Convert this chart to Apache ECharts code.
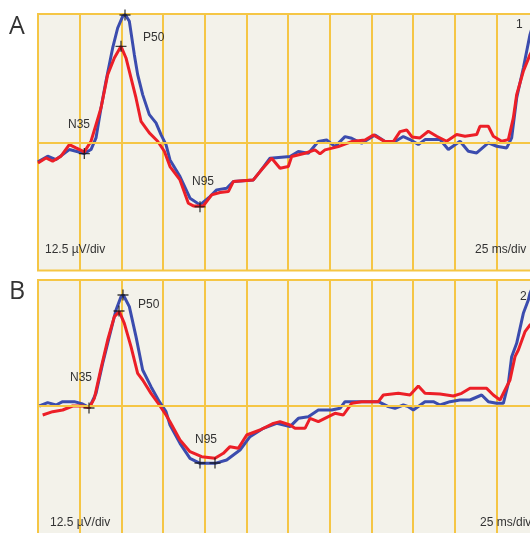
<!DOCTYPE html>
<html>
<head>
<meta charset="utf-8">
<script src="https://cdn.jsdelivr.net/npm/echarts@6/dist/echarts.min.js"></script>
<style>html,body{margin:0;padding:0;background:#fff;}#c{width:530px;height:533px;}</style>
</head>
<body>
<div id="c"></div>
<script>
// time in ms (25 ms/div), amplitude in µV (12.5 µV/div)
const aBlue = [[0,-5.9],[5.8,-4.2],[10.8,-5.2],[14.8,-3.7],[18.8,-2.2],[22.8,-2.7],[27.8,-3.4],[31.8,-2.2],[34.8,1.3],[37.8,10.3],[40.8,18.4],[44.8,28.3],[47.8,34.3],[50.8,37.8],[52.4,38.3],[54.8,36.3],[57.8,26.3],[59.8,20.3],[62.8,14.3],[66.8,8.3],[70.8,5.8],[73.8,2.3],[76.8,-0.7],[79.2,-5.3],[85.2,-10.3],[91.2,-16.8],[97.2,-18.8],[103.2,-16.3],[107.2,-14.3],[113.2,-13.8],[117.2,-11.8],[129.2,-11.3],[133.2,-8.8],[139.2,-4.8],[151.2,-4.3],[156.2,-2.8],[162.2,-3.3],[168.2,0.2],[173.2,0.7],[178.2,-1.3],[184.2,1.7],[188.2,1.2],[194.2,-0.3],[202.2,2.2],[208.2,0.2],[214.2,0.2],[219.2,1.7],[223.2,0.8],[228.2,-0.7],[232.2,0.8],[241.2,0.8],[246.2,-2.2],[253.2,0.3],[258.2,-2.7],[263.2,-3.2],[270.2,-0.2],[275.2,-1.2],[281.2,-1.7],[284.2,1.3],[287.2,13.3],[291.2,22.3],[295.2,32.3],[298.2,37.3]];
const aRed = [[0,-6.2],[4.8,-4.7],[8.8,-5.7],[13.8,-4.2],[18.8,-0.7],[22.8,-1.7],[27.8,-2.9],[31.8,0.3],[34.8,5.3],[37.8,10.3],[41.8,20.3],[45.8,25.3],[49.8,28.8],[52.8,25.3],[55.8,19.3],[58.8,13.3],[61.8,6.3],[66.8,2.8],[71.8,0.3],[75.8,-2.7],[79.2,-7.3],[85.2,-11.3],[90.2,-18.3],[93.2,-19.1],[99.2,-19.1],[104.2,-15.8],[109.2,-15.1],[114.2,-14.8],[117.2,-11.8],[129.2,-11.3],[133.2,-8.8],[140.2,-4.8],[145.2,-7.8],[150.2,-7.3],[152.2,-4.3],[160.2,-3.3],[166.2,-2.3],[169.2,-3.5],[172.2,-2.3],[180.2,-1.3],[188.2,0.2],[196.2,0.7],[201.2,2.2],[208.2,0.2],[213.2,0.2],[217.2,3.2],[221.2,3.7],[224.4,1.6],[229.2,1.3],[234.2,3.3],[239.2,1.8],[245.2,0.3],[251.2,2.3],[256.2,1.8],[263.2,2.3],[265.2,4.8],[270.2,4.8],[273.2,1.8],[278.2,0.3],[282.2,0.8],[285.2,7.3],[287.2,14.3],[291.2,21.3],[295.2,26.3],[298.2,29.2]];
const bBlue = [[0.8,0],[5.8,1.0],[10.8,0.3],[14.8,1.3],[21.8,1.3],[26.8,0.6],[30.8,-0.5],[34.8,3.8],[38.8,12.8],[42.8,20.8],[46.8,28.8],[49.8,32.8],[51.2,33.3],[54.8,29.8],[58.8,20.8],[62.8,10.8],[67.8,5.8],[72.8,1.3],[76.8,-1.7],[79.2,-5.7],[85.2,-11.2],[91.2,-15.7],[97.2,-17.2],[106.2,-17.2],[113.2,-16.2],[121.2,-13.2],[127.2,-9.2],[135.2,-6.7],[143.2,-5.2],[151.2,-6.2],[156.2,-3.7],[162.2,-3.2],[168.2,-1.2],[176.2,-1.2],[181.2,-0.7],[184.2,1.3],[196.2,1.3],[204.2,1.3],[210.2,-0.2],[214.2,-0.7],[219.2,0.3],[222.2,-0.2],[225.2,-1.2],[232.2,1.3],[237.2,1.3],[241.2,0.3],[247.2,1.3],[253.2,1.8],[259.2,1.8],[266.2,3.3],[270.2,1.3],[275.2,0.8],[279.2,0.8],[282.2,6.8],[284.2,14.8],[287.2,18.8],[291.2,27.8],[294.2,31.8],[295.2,33.9],[298.2,37.2]];
const bRed = [[2.8,-2.7],[8.8,-1.7],[14.8,-1.2],[20.8,0],[26.8,0],[30.8,-0.5],[33.8,2.3],[37.8,11.3],[41.8,19.8],[45.8,26.8],[48.8,28.3],[51.8,24.8],[55.8,17.8],[59.8,9.8],[62.8,7.8],[67.8,3.8],[72.8,0.3],[76.8,-2.7],[79.2,-4.7],[85.2,-10.2],[91.2,-13.7],[98.2,-15.2],[106.2,-15.7],[111.2,-14.2],[115.2,-12.2],[120.2,-12.7],[125.2,-8.7],[133.2,-7.2],[141.2,-5.2],[145.2,-4.7],[151.2,-5.7],[154.2,-6.7],[160.2,-6.7],[163.2,-3.7],[168.2,-4.7],[174.2,-3.2],[178.2,-2.2],[183.2,-2.7],[188.2,0.8],[194.2,1.3],[204.2,1.3],[207.2,3.3],[216.2,3.8],[223.2,3.3],[228.2,6.0],[232.2,3.8],[241.2,3.6],[249.2,3.0],[254.2,3.8],[259.2,5.3],[269.2,5.3],[273.2,3.3],[277.2,1.8],[280.2,4.8],[283.2,7.8],[286.2,14.8],[288.2,16.8],[292.2,22.3],[295.2,24.3],[298.2,25.8]];
const aMarks = [[52.2,38.2],[49.8,28.8],[27.8,-3.4],[97.2,-19.4]];
const bMarks = [[51.0,33.3],[48.6,28.5],[30.6,-0.6],[97.2,-17.1],[106.2,-17.1]];

const GRIDC = '#f5c645', BG = '#f3f2ea', BLUE = '#3b4cae', RED = '#ec1f27', TXT = '#333';
const cross = 'path://M4.4,0h1.2v10h-1.2zM0,4.4h10v1.2h-10z';

function xAx(i){return {gridIndex:i,type:'value',min:0,max:300,interval:25,
  axisLine:{show:false},axisTick:{show:false},axisLabel:{show:false},
  splitLine:{show:true,lineStyle:{color:GRIDC,width:2}}};}
function yAx(i,mn,mx){return {gridIndex:i,type:'value',min:mn,max:mx,
  axisLine:{show:false},axisTick:{show:false},axisLabel:{show:false},splitLine:{show:false}};}
function baseline(i){return {type:'line',xAxisIndex:i,yAxisIndex:i,data:[],z:1,silent:true,
  markLine:{silent:true,symbol:'none',label:{show:false},lineStyle:{color:GRIDC,width:2,type:'solid'},data:[{yAxis:0}]}};}
function trace(i,d,c){return {type:'line',xAxisIndex:i,yAxisIndex:i,data:d,showSymbol:false,z:3,
  lineStyle:{color:c,width:3},itemStyle:{color:c},clip:true};}
function marks(i,d){return {type:'scatter',xAxisIndex:i,yAxisIndex:i,data:d,symbol:cross,symbolSize:11,z:5,
  itemStyle:{color:'#111'}};}
function t(x,y,s,size,align,fam){return {type:'text',x:x,y:y,z:10,style:{text:s,fill:TXT,
  font:(size||12)+'px '+(fam||'"Liberation Sans", Arial'),textAlign:align||'left',textVerticalAlign:'middle'}};}

const chart = echarts.init(document.getElementById('c'),null,{renderer:'canvas'});
chart.setOption({
  animation:false,
  backgroundColor:'#ffffff',
  grid:[
    {left:38,top:14,width:500,height:256.5,show:true,backgroundColor:BG,borderColor:GRIDC,borderWidth:2,outerBoundsMode:'none',containLabel:false},
    {left:38,top:280,width:500,height:266,show:true,backgroundColor:BG,borderColor:GRIDC,borderWidth:2,outerBoundsMode:'none',containLabel:false}
  ],
  xAxis:[xAx(0),xAx(1)],
  yAxis:[yAx(0,-38.5,38.5),yAx(1,-42,37.8)],
  series:[
    baseline(0),baseline(1),
    trace(0,aBlue,BLUE),trace(0,aRed,RED),
    trace(1,bBlue,BLUE),trace(1,bRed,RED),
    marks(0,aMarks),marks(1,bMarks)
  ],
  graphic:[
    t(9,27,'A',25,'left','"Open Sans", "Noto Sans"'),
    t(143,38,'P50'),t(68,125,'N35'),t(192,182,'N95'),
    t(45,250,'12.5 µV/div'),t(475,250,'25 ms/div'),t(516,25,'1'),
    t(9,292,'B',25,'left','"Open Sans", "Noto Sans"'),
    t(138,305,'P50'),t(70,378,'N35'),t(195,440,'N95'),
    t(50,523,'12.5 µV/div'),t(480,523,'25 ms/div'),t(520,297,'2')
  ]
});
</script>
</body>
</html>
